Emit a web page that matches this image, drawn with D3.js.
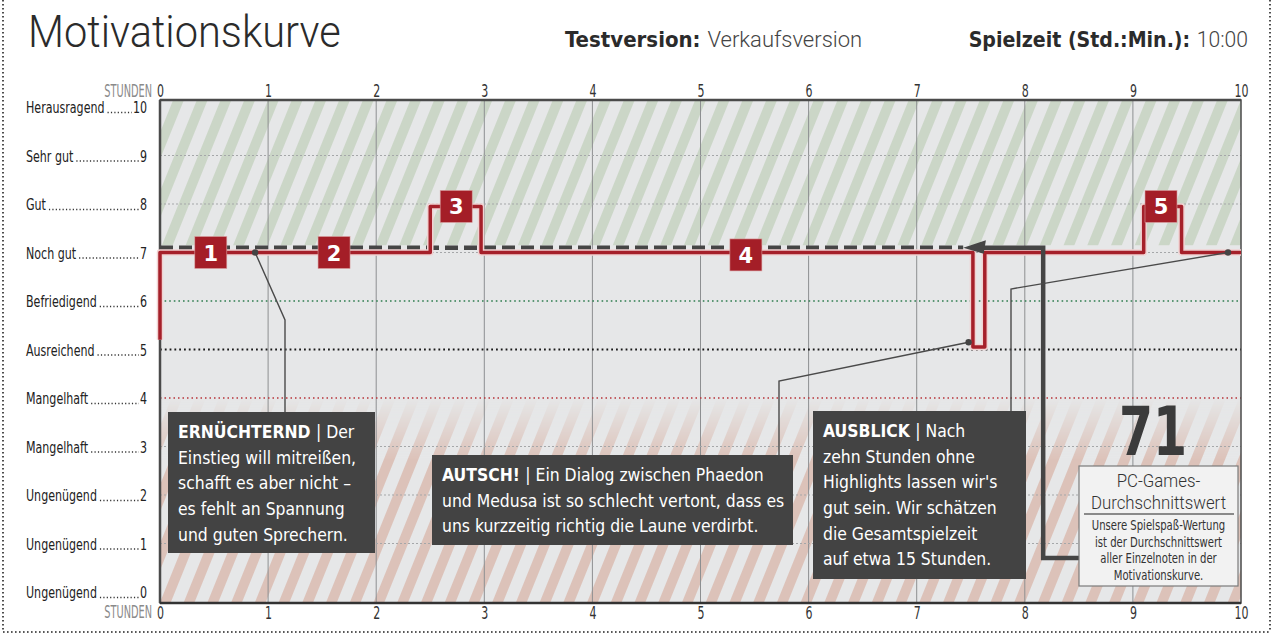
<!DOCTYPE html>
<html><head><meta charset="utf-8">
<script src="https://cdn.jsdelivr.net/npm/d3@7"></script>
<style>body{margin:0;background:#fff;}svg{display:block;}</style>
</head><body>
<script>
// ---------- DATA ----------
const hours = [0,1,2,3,4,5,6,7,8,9,10];
const gradeValues = [0,1,2,3,4,5,6,7,8,9,10];
const gradeNames = ["Ungenügend","Ungenügend","Ungenügend","Mangelhaft","Mangelhaft","Ausreichend","Befriedigend","Noch gut","Gut","Sehr gut","Herausragend"];
const curveTimes  = [0,   0,  2.5, 2.97, 7.52, 7.63, 9.1, 9.45, 10];
const curveValues = [5.2, 7,  7.95, 7,   5.05, 7,    7.95, 7,   7];
const markerLabels = ["1","2","3","4","5"];
const markerTimes  = [0.47, 1.61, 2.74, 5.42, 9.26];
const markerValues = [7, 7, 7.95, 6.95, 7.95];
const averageScore = 71;
const title = "Motivationskurve";
const testVersionLabel = "Testversion:", testVersionValue = "Verkaufsversion";
const playTimeLabel = "Spielzeit (Std.:Min.):", playTimeValue = "10:00";
const axisName = "STUNDEN";
const noteHeads = ["ERNÜCHTERND","AUTSCH!","AUSBLICK"];
const noteLines = [
  ["| Der","Einstieg will mitreißen,","schafft es aber nicht –","es fehlt an Spannung","und guten Sprechern."],
  ["| Ein Dialog zwischen Phaedon","und Medusa ist so schlecht vertont, dass es","uns kurzzeitig richtig die Laune verdirbt."],
  ["| Nach","zehn Stunden ohne","Highlights lassen wir's","gut sein. Wir schätzen","die Gesamtspielzeit","auf etwa 15 Stunden."]
];
const noteAnchorTimes = [0.88, 7.48, 9.88];
const noteAnchorValues = [7, 5.15, 7];
const scoreTitle = ["PC-Games-","Durchschnittswert"];
const scoreText = ["Unsere Spielspaß-Wertung","ist der Durchschnittswert","aller Einzelnoten in der","Motivationskurve."];

// ---------- SETUP ----------
const COND = "'DejaVu Sans Condensed','Liberation Sans Narrow',sans-serif";
const W = 1280, H = 644;
const svg = d3.select("body").append("svg").attr("width",W).attr("height",H);
const x = d3.scaleLinear().domain([0,10]).range([160,1241]);
const y = d3.scaleLinear().domain([0,10]).range([592,107]);
const plotTop = 100, plotBottom = 603, plotLeft = x(0), plotRight = x(10);

// scaled text helper (horizontal condensing)
function stext(parent, px, py, str, o){
  o = Object.assign({size:14, sx:1, anchor:"start", weight:"normal", fill:"#222", family:COND}, o||{});
  const g = parent.append("g").attr("transform",`translate(${px},${py}) scale(${o.sx},1)`);
  const t = g.append("text").attr("text-anchor",o.anchor).attr("font-family",o.family).attr("font-size",o.size)
    .attr("font-weight",o.weight).attr("fill",o.fill);
  if(str!==null) t.text(str);
  return t;
}

const defs = svg.append("defs");
function stripes(id, color){
  const p = defs.append("pattern").attr("id",id).attr("patternUnits","userSpaceOnUse")
    .attr("width",22).attr("height",40).attr("patternTransform","rotate(22)");
  p.append("rect").attr("width",22).attr("height",40).attr("fill","#e6e7e8");
  p.append("rect").attr("x",0).attr("width",10).attr("height",40).attr("fill",color);
}
stripes("gstripe","#cbd6c7");
stripes("rstripe","#dcc2b9");
const lg = defs.append("linearGradient").attr("id","fadeR").attr("x1",0).attr("y1",0).attr("x2",0).attr("y2",1);
lg.append("stop").attr("offset","0").attr("stop-color","#fff").attr("stop-opacity",0);
lg.append("stop").attr("offset","0.3").attr("stop-color","#fff").attr("stop-opacity",1);
lg.append("stop").attr("offset","1").attr("stop-color","#fff").attr("stop-opacity",1);
const mask = defs.append("mask").attr("id","maskR").attr("maskUnits","userSpaceOnUse")
  .attr("x",0).attr("y",0).attr("width",W).attr("height",H);
mask.append("rect").attr("x",plotLeft).attr("y",y(4)).attr("width",plotRight-plotLeft).attr("height",plotBottom-y(4)).attr("fill","url(#fadeR)");

// outer dotted frame
const frame = svg.append("g").attr("stroke","#222").attr("stroke-width",1.6).attr("stroke-dasharray","1.6,2.4").attr("fill","none");
frame.append("line").attr("x1",3).attr("y1",0).attr("x2",3).attr("y2",632);
frame.append("line").attr("x1",3).attr("y1",632).attr("x2",1270).attr("y2",632);
frame.append("line").attr("x1",1270).attr("y1",0).attr("x2",1270).attr("y2",632);

// header
stext(svg, 28, 47, title, {size:44, sx:0.945, family:"Roboto,sans-serif", weight:300, fill:"#2b2b2b"});
const h1 = stext(svg, 565, 47, null, {size:22, fill:"#2b2b2b"});
h1.append("tspan").attr("font-weight","bold").text(testVersionLabel + " ");
h1.append("tspan").attr("font-family","Roboto,sans-serif").attr("font-weight",300).attr("fill","#444").text(testVersionValue);
const h2 = stext(svg, 1248, 47, null, {size:22, sx:0.96, anchor:"end", fill:"#2b2b2b"});
h2.append("tspan").attr("font-weight","bold").text(playTimeLabel + " ");
h2.append("tspan").attr("font-family","Roboto,sans-serif").attr("font-weight",300).attr("fill","#444").text(playTimeValue);

// backgrounds
svg.append("rect").attr("x",plotLeft).attr("y",plotTop).attr("width",plotRight-plotLeft).attr("height",plotBottom-plotTop).attr("fill","#e6e7e8");
svg.append("rect").attr("x",plotLeft).attr("y",plotTop).attr("width",plotRight-plotLeft).attr("height",y(7.15)-plotTop).attr("fill","url(#gstripe)");
svg.append("rect").attr("x",plotLeft).attr("y",y(4)).attr("width",plotRight-plotLeft).attr("height",plotBottom-y(4)).attr("fill","url(#rstripe)").attr("mask","url(#maskR)");

// vertical grid
svg.append("g").selectAll("line").data(hours.slice(1,-1)).join("line")
  .attr("x1",d=>x(d)).attr("x2",d=>x(d)).attr("y1",plotTop).attr("y2",plotBottom)
  .attr("stroke","#8d8f91").attr("stroke-width",1);

// horizontal grid
function gridStyle(v){
  if(v===6) return {c:"#2f7d4f",w:1.6,d:"1.6,3"};
  if(v===5) return {c:"#1a1a1a",w:1.8,d:"1.8,3"};
  if(v===4) return {c:"#b8343a",w:1.4,d:"1.5,3"};
  return {c:"#a5a7a9",w:1,d:"2,2"};
}
svg.append("g").selectAll("line").data(gradeValues.filter(v=>v>0&&v<10)).join("line")
  .attr("x1",plotLeft).attr("x2",plotRight).attr("y1",d=>y(d)).attr("y2",d=>y(d))
  .attr("stroke",d=>gridStyle(d).c).attr("stroke-width",d=>gridStyle(d).w).attr("stroke-dasharray",d=>gridStyle(d).d);

// plot border
svg.append("rect").attr("x",plotLeft).attr("y",plotTop).attr("width",plotRight-plotLeft).attr("height",plotBottom-plotTop)
  .attr("fill","none").attr("stroke","#4a4a4a").attr("stroke-width",1.5);
svg.append("line").attr("x1",plotLeft).attr("x2",plotLeft).attr("y1",plotTop).attr("y2",plotBottom).attr("stroke","#4a4a4a").attr("stroke-width",2.5);
svg.append("line").attr("x1",plotLeft).attr("x2",plotRight).attr("y1",plotTop).attr("y2",plotTop).attr("stroke","#4a4a4a").attr("stroke-width",2.5);
svg.append("line").attr("x1",plotLeft).attr("x2",plotRight).attr("y1",plotBottom).attr("y2",plotBottom).attr("stroke","#333").attr("stroke-width",2.5);

// hour axes
function styleAxis(g){
  g.select(".domain").remove();
  g.selectAll("text").attr("font-family",COND).attr("font-size",18).attr("fill","#333")
    .attr("transform","scale(0.68,1)");
}
svg.append("g").attr("transform",`translate(0,${plotTop-3})`)
  .call(d3.axisTop(x).tickValues(hours).tickSize(0).tickPadding(0).tickFormat(d3.format("d"))).call(styleAxis);
svg.append("g").attr("transform",`translate(0,${plotBottom+2})`)
  .call(d3.axisBottom(x).tickValues(hours).tickSize(0).tickPadding(1).tickFormat(d3.format("d"))).call(styleAxis);
[plotTop-3, plotBottom+15].forEach(yy=>{
  stext(svg, 152, yy, axisName, {size:17, sx:0.64, anchor:"end", fill:"#8a8a8a"});
});

// grade labels
const gl = svg.append("g");
const GSX = 0.77;
gradeValues.forEach((v,i)=>{
  const by = y(v)+6;
  const t = stext(gl, 26, by, gradeNames[i], {size:16, sx:GSX});
  const n = stext(gl, 147, by, String(v), {size:16, sx:GSX, anchor:"end"});
  const tw = t.node().getComputedTextLength()*GSX, nw = n.node().getComputedTextLength()*GSX;
  gl.append("line").attr("x1",26+tw+3).attr("x2",147-nw-1).attr("y1",by-0.5).attr("y2",by-0.5)
    .attr("stroke","#333").attr("stroke-width",1.3).attr("stroke-dasharray","1.2,2.2");
});

// average dashed line
const avg = averageScore/10;
svg.append("line").attr("x1",plotLeft).attr("x2",x(7.43)).attr("y1",y(avg)).attr("y2",y(avg))
  .attr("stroke","#454545").attr("stroke-width",4.5).attr("stroke-dasharray","13,6");

// curve
const line = d3.line().x((d,i)=>x(curveTimes[i])).y((d,i)=>y(curveValues[i])).curve(d3.curveStepAfter);
const pts = curveTimes.map((t,i)=>i);
svg.append("path").attr("d",line(pts)).attr("fill","none").attr("stroke","#f1d2d2").attr("stroke-width",6.5).attr("stroke-linejoin","round");
svg.append("path").attr("d",line(pts)).attr("fill","none").attr("stroke","#a5202a").attr("stroke-width",3.5).attr("stroke-linejoin","round");

// arrow (average pointer)
const arrowX = x(8.17);
svg.append("path").attr("d",`M${x(7.62)},${y(avg)} H${arrowX} V558 H1079`)
  .attr("fill","none").attr("stroke","#454545").attr("stroke-width",4.5);
svg.append("path").attr("d",`M${x(7.43)},${y(avg)} L${x(7.64)},${y(avg)-7.5} L${x(7.62)},${y(avg)+6} Z`).attr("fill","#454545");

// connectors
const conn = svg.append("g").attr("stroke","#4a4a4a").attr("stroke-width",1.4).attr("fill","none");
const connPaths = [
  [[x(noteAnchorTimes[0]),y(noteAnchorValues[0])],[285,320],[285,412]],
  [[x(noteAnchorTimes[1]),y(noteAnchorValues[1])],[779,381],[779,455]],
  [[x(noteAnchorTimes[2]),y(noteAnchorValues[2])],[1011,289],[1011,411]]
];
connPaths.forEach(p=>conn.append("path").attr("d",d3.line()(p)));
noteAnchorTimes.forEach((t,i)=>svg.append("circle").attr("cx",x(t)).attr("cy",y(noteAnchorValues[i])).attr("r",3.2).attr("fill","#444"));

// markers
const mk = svg.append("g");
markerTimes.forEach((t,i)=>{
  const cx = x(t), cy = y(markerValues[i]);
  mk.append("rect").attr("x",cx-16).attr("y",cy-16).attr("width",32).attr("height",32).attr("fill","#a41e27")
    .attr("stroke","#d9a0a0").attr("stroke-width",0.6);
  mk.append("text").attr("x",cx).attr("y",cy+8).attr("text-anchor","middle").attr("font-family","'DejaVu Sans',sans-serif")
    .attr("font-weight","bold").attr("font-size",21).attr("fill","#fff").text(markerLabels[i]);
});

// note boxes
const boxes = [
  {x:168,y:412,w:207,h:141},
  {x:432,y:455,w:361,h:90},
  {x:813,y:411,w:213,h:168}
];
noteHeads.forEach((head,i)=>{
  const b = boxes[i];
  svg.append("rect").attr("x",b.x).attr("y",b.y).attr("width",b.w).attr("height",b.h).attr("fill","#434343");
  const g = stext(svg, b.x+10, b.y, null, {size:18.5, sx:0.94, fill:"#fff"});
  noteLines[i].forEach((l,j)=>{
    const ts = g.append("tspan").attr("x",0).attr("y",26+j*25.7);
    if(j===0){ ts.append("tspan").attr("font-weight","bold").text(head+" "); }
    ts.append("tspan").text(l);
  });
});

// score
stext(svg, 1153, 455, String(averageScore), {size:68, sx:0.8, anchor:"middle", weight:"bold", fill:"#3b3b3b"});
svg.append("rect").attr("x",1079).attr("y",466).attr("width",159).attr("height",120).attr("fill","#f2f2f2").attr("stroke","#7a7a7a").attr("stroke-width",1.2);
scoreTitle.forEach((s,i)=>stext(svg, 1158.5, 487+i*22, s, {size:17.5, sx:0.96, anchor:"middle", family:"Roboto,sans-serif", weight:300, fill:"#333"}));
svg.append("line").attr("x1",1084).attr("x2",1234).attr("y1",514).attr("y2",514).attr("stroke","#8a8a8a").attr("stroke-width",2);
scoreText.forEach((s,i)=>stext(svg, 1158.5, 530+i*16.7, s, {size:13.5, sx:0.83, anchor:"middle", fill:"#333"}));
</script>
</body></html>
